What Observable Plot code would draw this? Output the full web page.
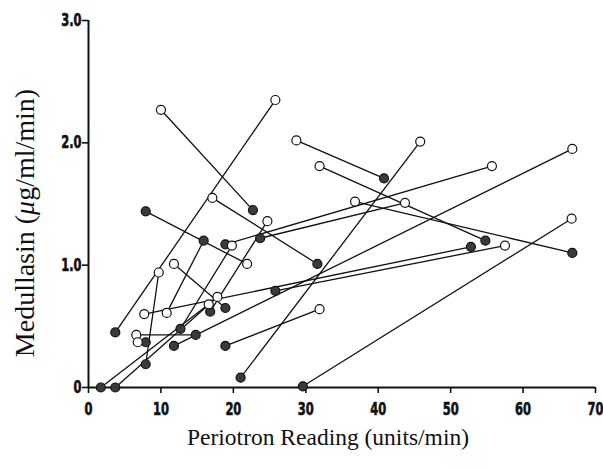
<!DOCTYPE html>
<html>
<head>
<meta charset="utf-8">
<script src="https://cdn.jsdelivr.net/npm/d3@7"></script>
<script src="https://cdn.jsdelivr.net/npm/@observablehq/plot@0.6"></script>
<style>
  html, body { margin: 0; padding: 0; background: #fff; }
  #chart { width: 603px; height: 468px; }
</style>
</head>
<body>
<div id="chart"></div>
<script>
// Paired measurements: open circle (one condition) and filled circle (other), joined by a line
const openX = [10, 25.8, 17.1, 28.7, 45.8, 31.9, 36.8, 21.9, 66.7, 31.9, 55.7, 43.7, 11.8, 6.6, 9.7, 6.8, 10.8, 66.8, 57.5, 7.7, 24.7, 19.8, 17.8, 16.6];
const openY = [2.27, 2.35, 1.55, 2.02, 2.01, 1.81, 1.52, 1.01, 1.38, 0.64, 1.81, 1.51, 1.01, 0.43, 0.94, 0.37, 0.61, 1.95, 1.16, 0.60, 1.36, 1.16, 0.74, 0.68];
const fillX = [22.7, 3.7, 31.6, 40.8, 21.0, 54.8, 66.8, 7.9, 29.6, 18.9, 18.9, 23.7, 18.9, 14.8, 7.9, 7.9, 15.9, 11.8, 25.8, 52.8, 16.8, 12.7, 3.7, 1.7];
const fillY = [1.45, 0.45, 1.01, 1.71, 0.08, 1.20, 1.10, 1.44, 0.01, 0.34, 1.17, 1.22, 0.65, 0.43, 0.19, 0.37, 1.20, 0.34, 0.79, 1.15, 0.62, 0.48, 0.0, 0.0];

const xTicks = [0, 10, 20, 30, 40, 50, 60, 70];
const xTickLabels = ["0", "10", "20", "30", "40", "50", "60", "70"];
const yTicks = [0, 1, 2, 3];
const yTickLabels = ["0", "1.0", "2.0", "3.0"];

const segs = openX.map((x, i) => ({x1: x, y1: openY[i], x2: fillX[i], y2: fillY[i]}));
const opens = openX.map((x, i) => ({x, y: openY[i]}));
const fills = fillX.map((x, i) => ({x, y: fillY[i]}));

const tickFont = "'DejaVu Sans Condensed', 'Liberation Sans Narrow', 'DejaVu Sans', sans-serif";

const plot = Plot.plot({
  width: 603,
  height: 468,
  marginLeft: 88,
  marginRight: 8,
  marginTop: 20,
  marginBottom: 81,
  style: { background: "#fff", overflow: "visible" },
  x: { domain: [0, 70], label: null },
  y: { domain: [0, 3], label: null },
  marks: [
    Plot.axisX({ticks: xTicks, tickSize: 6, stroke: "#111", strokeWidth: 1.6, tickFormat: () => "", label: null}),
    Plot.axisY({ticks: yTicks, tickSize: 6, stroke: "#111", strokeWidth: 1.6, tickFormat: () => "", label: null}),
    Plot.text(xTicks, {x: d => d, y: 0, dy: 22, text: (d, i) => xTickLabels[i], fontFamily: tickFont, fontWeight: "bold", fontSize: 17, fill: "#111", stroke: "#111", strokeWidth: 0.6, className: "tk"}),
    Plot.text(yTicks, {x: 0, y: d => d, dx: -7, textAnchor: "end", text: (d, i) => yTickLabels[i], fontFamily: tickFont, fontWeight: "bold", fontSize: 17, fill: "#111", stroke: "#111", strokeWidth: 0.6, className: "tk"}),
    Plot.ruleX([0], {y1: 0, y2: 3, stroke: "#111", strokeWidth: 2}),
    Plot.ruleY([0], {x1: 0, x2: 70, stroke: "#111", strokeWidth: 2}),
    Plot.link(segs, {x1: "x1", y1: "y1", x2: "x2", y2: "y2", stroke: "#111", strokeWidth: 1.3}),
    Plot.dot(fills, {x: "x", y: "y", r: 4.5, fill: "#3a3a3a", stroke: "#111", strokeWidth: 1.2}),
    Plot.dot(opens, {x: "x", y: "y", r: 4.5, fill: "#fff", stroke: "#111", strokeWidth: 1.2})
  ]
});

// horizontally condense the tick labels about their anchor points
plot.querySelectorAll(".tk text").forEach(t => {
  let tr = t.getAttribute("transform");
  if (!tr) {
    const x = +(t.getAttribute("x") || 0), y = +(t.getAttribute("y") || 0);
    t.removeAttribute("x"); t.removeAttribute("y");
    tr = `translate(${x},${y})`;
  }
  t.setAttribute("transform", tr + " scale(0.75,1)");
  t.style.fontStretch = "condensed";
});

const svg = d3.select(plot);
// Axis titles
svg.append("text")
  .attr("x", 328).attr("y", 445)
  .attr("text-anchor", "middle")
  .attr("font-family", "'Liberation Serif', 'DejaVu Serif', serif")
  .attr("font-size", 23.5)
  .attr("fill", "#111")
  .text("Periotron Reading (units/min)");

const yl = svg.append("text")
  .attr("transform", "translate(34,223) rotate(-90)")
  .attr("text-anchor", "middle")
  .attr("font-family", "'Liberation Serif', 'DejaVu Serif', serif")
  .attr("font-size", 28)
  .attr("fill", "#111");
yl.append("tspan").text("Medullasin (");
yl.append("tspan").attr("font-style", "italic").text("μ");
yl.append("tspan").text("g/ml/min)");

document.getElementById("chart").appendChild(plot);
</script>
</body>
</html>
